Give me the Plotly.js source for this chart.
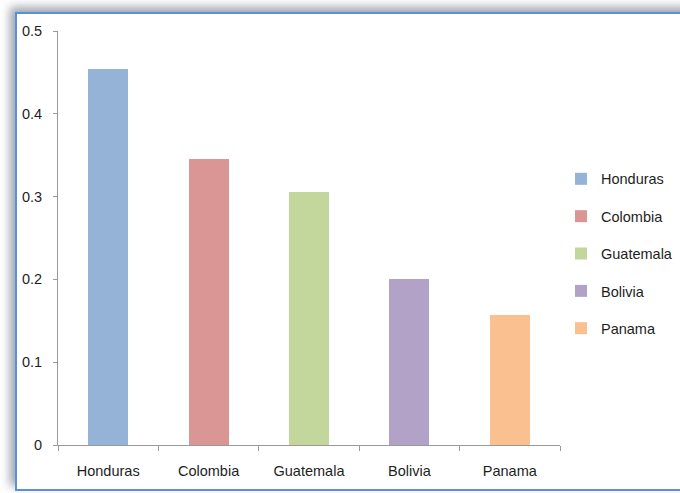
<!DOCTYPE html>
<html>
<head>
<meta charset="utf-8">
<script src="https://cdn.plot.ly/plotly-3.0.1.min.js"></script>
<style>
  html, body { margin: 0; padding: 0; background: #ffffff; width: 680px; height: 493px; overflow: hidden; position: relative; }
  #frame {
    position: absolute; left: 15px; top: 12px; width: 800px; height: 475px;
    border: 2px solid #5b8fd6; background: #ffffff;
    box-shadow: -5px -5px 9px rgba(80, 90, 110, 0.55);
  }
  #chart { position: absolute; left: 0; top: 0; width: 680px; height: 493px; }
</style>
</head>
<body>
<div id="frame"></div>
<div id="chart"></div>
<script>
// Countries and their values
const countries = ["Honduras", "Colombia", "Guatemala", "Bolivia", "Panama"];
const values = [0.454, 0.345, 0.305, 0.201, 0.157];
const colors = ["#95b3d7", "#d99694", "#c3d69b", "#b3a2c7", "#fac090"];
const yTicks = [0, 0.1, 0.2, 0.3, 0.4, 0.5];

const font = { family: "Liberation Sans, Arial, sans-serif", size: 14.5, color: "#1e1e1e" };

// One trace per country so each gets its own legend entry
const traces = countries.map((c, i) => ({
  type: "bar",
  name: c,
  x: [c],
  y: [values[i]],
  marker: { color: colors[i], line: { width: 0 } },
  legendgroup: c,
  hoverinfo: "x+y"
}));

const layout = {
  width: 680,
  height: 493,
  margin: { l: 58, r: 120, t: 31, b: 48 },
  paper_bgcolor: "rgba(0,0,0,0)",
  plot_bgcolor: "rgba(0,0,0,0)",
  font: font,
  barmode: "stack",
  bargap: 0.6,
  showlegend: true,
  legend: {
    xref: "container", yref: "container",
    x: 0.825, xanchor: "left",
    y: 0.485, yanchor: "middle",
    font: font,
    itemwidth: 30,
    tracegroupgap: 15.5,
    bgcolor: "rgba(0,0,0,0)"
  },
  xaxis: {
    type: "category",
    categoryorder: "array",
    categoryarray: countries,
    showline: true, linecolor: "#9a9a9a", linewidth: 1,
    ticks: "outside", tickson: "boundaries", ticklen: 5, tickcolor: "#9a9a9a",
    showgrid: false, zeroline: false,
    ticklabelstandoff: 13,
    tickfont: font,
    fixedrange: true
  },
  yaxis: {
    range: [0, 0.5],
    tickvals: yTicks,
    ticktext: yTicks.map(v => String(v)),
    showline: true, linecolor: "#9a9a9a", linewidth: 1,
    ticks: "outside", ticklen: 4, tickcolor: "#9a9a9a",
    showgrid: false, zeroline: false,
    ticklabelstandoff: 8,
    tickfont: font,
    fixedrange: true
  }
};

Plotly.newPlot("chart", traces, layout, { displayModeBar: false, staticPlot: true });
</script>
</body>
</html>
